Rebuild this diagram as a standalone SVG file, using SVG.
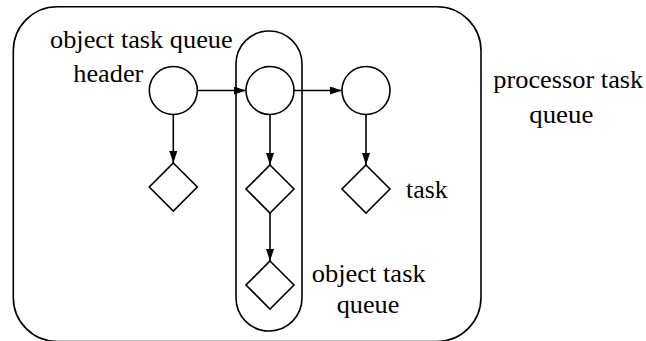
<svg xmlns="http://www.w3.org/2000/svg" width="646" height="341" viewBox="0 0 646 341">
<style>
.s{fill:none;stroke:#000;stroke-width:1.6}
.n{fill:#fff;stroke:#000;stroke-width:1.6}
.c{fill:none;stroke:#000;stroke-width:1.6;marker-end:url(#ah)}
.t{font-family:'Liberation Serif','DejaVu Serif',serif;font-size:26px;fill:#000}
</style>
<defs>
<marker id="ah" viewBox="0 0 12 8" refX="12" refY="4" markerWidth="12" markerHeight="8" markerUnits="userSpaceOnUse" orient="auto">
<path d="M0,0 L12,4 L0,8 Z" fill="#000"/>
</marker>
</defs>
<g id="processor-task-queue">
<rect class="s" x="13.3" y="6.7" width="467.7" height="334.8" rx="44" ry="44"/>
<text class="t" x="493.3" y="88.3" textLength="150" lengthAdjust="spacingAndGlyphs">processor task</text>
<text class="t" x="529.3" y="123.3" textLength="64" lengthAdjust="spacingAndGlyphs">queue</text>
</g>
<g id="object-task-queue">
<rect class="s" x="236" y="31" width="66" height="300" rx="33" ry="33"/>
<text class="t" x="311.7" y="281.7" textLength="114" lengthAdjust="spacingAndGlyphs">object task</text>
<text class="t" x="336.7" y="313.3" textLength="62.6" lengthAdjust="spacingAndGlyphs">queue</text>
</g>
<g id="header-label">
<text class="t" x="50" y="48.3" textLength="182.7" lengthAdjust="spacingAndGlyphs">object task queue</text>
<text class="t" x="73.3" y="81.7" textLength="70" lengthAdjust="spacingAndGlyphs">header</text>
</g>
<g id="connectors">
<line class="c" x1="197.3" y1="90.5" x2="246" y2="90.5"/>
<line class="c" x1="294" y1="90.5" x2="342" y2="90.5"/>
<line class="c" x1="173.3" y1="114.5" x2="173.3" y2="163"/>
<line class="c" x1="270" y1="114.5" x2="270" y2="165"/>
<line class="c" x1="366" y1="114.5" x2="366" y2="165"/>
<line class="c" x1="270" y1="213" x2="270" y2="261"/>
</g>
<g id="circle1"><circle class="n" cx="173.3" cy="90.5" r="24"/></g>
<g id="circle2"><circle class="n" cx="270" cy="90.5" r="24"/></g>
<g id="circle3"><circle class="n" cx="366" cy="90.5" r="24"/></g>
<g id="task1"><polygon class="n" points="173.3,163 197.3,187 173.3,211 149.3,187"/></g>
<g id="task2"><polygon class="n" points="270,165 294,189 270,213 246,189"/></g>
<g id="task3"><polygon class="n" points="270,261 294,285 270,309 246,285"/></g>
<g id="task4"><polygon class="n" points="366,165 390,189 366,213 342,189"/>
<text class="t" x="406" y="198.3" textLength="41.7" lengthAdjust="spacingAndGlyphs">task</text></g>
</svg>
